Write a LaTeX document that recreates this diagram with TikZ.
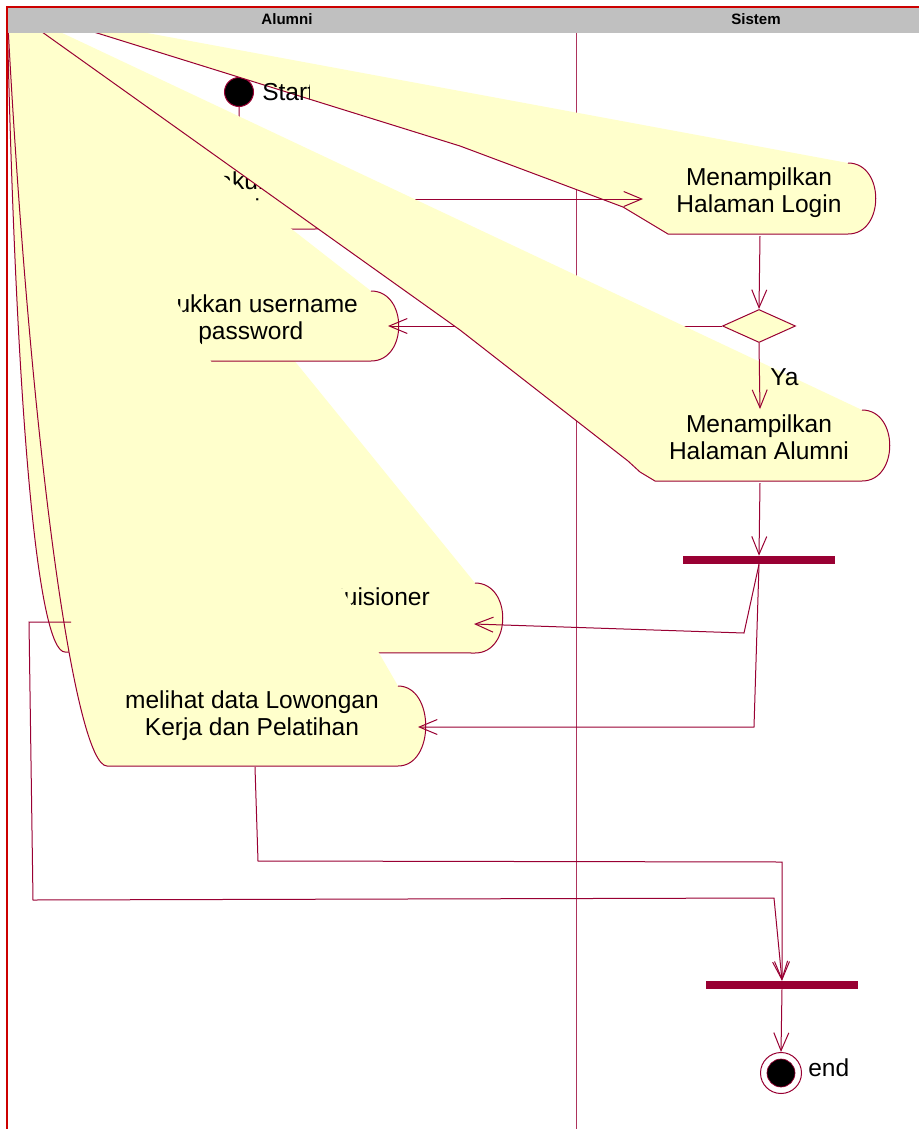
\documentclass[tikz,border=0pt]{standalone}
\usepackage{fontspec}
\setmainfont{Liberation Sans}
\usetikzlibrary{arrows.meta,shapes.geometric}
\definecolor{lineC}{RGB}{153,0,51}
\definecolor{fillC}{RGB}{255,255,204}
\definecolor{frameC}{RGB}{204,0,0}
\definecolor{headC}{RGB}{192,192,192}
\tikzset{
  conn/.style={draw=lineC, line width=0.75pt, -{Straight Barb[length=13.5pt,width=11.25pt]}},
  plainline/.style={draw=lineC, line width=0.75pt},
  actline/.style={draw=lineC, line width=0.75pt, line join=round},
  acttext/.style={font=\fontsize{18.4pt}{20.25pt}\selectfont, align=center, inner sep=0pt},
  lbl/.style={font=\fontsize{18.4pt}{20.25pt}\selectfont, inner sep=0pt},
  hdr/.style={font=\bfseries\fontsize{11.3pt}{13pt}\selectfont, inner sep=0pt},
  barnode/.style={rectangle, fill=lineC, minimum width=114pt, minimum height=6pt, inner sep=0pt},
  startnode/.style={circle, fill=black, draw=lineC, line width=0.75pt, minimum size=21.75pt, inner sep=0pt},
  endouter/.style={circle, fill=white, draw=lineC, line width=0.75pt, minimum size=30.75pt, inner sep=0pt},
  endinner/.style={circle, fill=black, draw=lineC, line width=0.5pt, minimum size=21pt, inner sep=0pt},
  decnode/.style={diamond, fill=fillC, draw=lineC, line width=0.75pt, minimum width=54.75pt, minimum height=24.75pt, inner sep=0pt}
}
\begin{document}
\begin{tikzpicture}[x=0.75pt,y=-0.75pt]
\useasboundingbox (0,0) rectangle (919,1129);
\fill[white] (0,0) rectangle (919,1129);
\coordinate (P) at (7,7);
% lane divider
\draw[lineC!80, line width=0.75pt] (576,33) -- (576,1129);
% start
\node[startnode] (start) at (239,92) {};
\coordinate (a1T) at (240,159);
\draw[conn] (start.south) -- (a1T);
% A1
\def\outA{(315,159) .. controls (352,159) and (352,229) .. (315,229) -- (100,229) -- (P)}
\fill[fillC] (P) -- \outA -- cycle;
\draw[actline] \outA;
\node[acttext] (tA) at (179,194.5) {Mengakses akun\\website alumni};
\coordinate (aR) at (342,199);
% Login
\def\outLogin{(848,163) .. controls (885,163) and (885,234) .. (848,234) -- (668,234) -- (623,207) -- (460,146) -- (97,33) -- (P)}
\fill[fillC] (P) -- \outLogin -- cycle;
\draw[actline] \outLogin;
\node[acttext] (tLogin) at (759,193) {Menampilkan\\Halaman Login};
\coordinate (loginL) at (643,199);
\coordinate (loginB) at (760,236);
% start label (clipped by its label box)
\begin{scope}
  \clip (255,70) rectangle (309,110);
  \node[lbl, anchor=base west] (startL) at (262,100) {Start};
\end{scope}
% Kuisioner
\def\outK{(475,583) .. controls (512,583) and (512,653) .. (475,653) -- (65,652) .. controls (38,652) and (16,420) .. (P)}
\fill[fillC] (P) -- \outK -- cycle;
\draw[actline] \outK;
\node[lbl, anchor=base] (tK) at (333,605) {Mengisi Kuisioner};
\coordinate (kR) at (474,624);
\coordinate (kL) at (71,622);
% A2
\def\outB{(371,291) .. controls (408,291) and (408,361) .. (371,361) -- (120,361) -- (P)}
\fill[fillC] (P) -- \outB -- cycle;
\draw[actline] \outB;
\node[acttext] (tB) at (227,320) {Memasukkan username\\dan password};
\coordinate (bR) at (388,326);
% decision
\node[decnode] (dec) at (759,326) {};
\draw[conn] (aR) -- (loginL);
\draw[conn] (loginB) -- (dec.north);
\draw[conn] (dec.west) -- (bR);
% Alumni page
\def\outAl{(862,410) .. controls (899,410) and (899,481) .. (862,481) -- (655,481) -- (640,472) -- (628,461) -- (460,330) -- (P)}
\fill[fillC] (P) -- \outAl -- cycle;
\draw[actline] \outAl;
\node[acttext] (tAl) at (759,437.5) {Menampilkan\\Halaman Alumni};
\coordinate (alT) at (760,409);
\coordinate (alB) at (760,483);
\draw[conn] (dec.south) -- (alT);
\node[lbl, anchor=base west] (ya) at (770,385) {Ya};
% melihat
\def\outM{(398,686) .. controls (435,686) and (435,766) .. (398,766) -- (107,766) .. controls (75,766) and (30,450) .. (P)}
\fill[fillC] (P) -- \outM -- cycle;
\draw[actline] \outM;
\node[acttext] (tM) at (252,716) {melihat data Lowongan\\Kerja dan Pelatihan};
\coordinate (mR) at (418,727);
\coordinate (mB) at (255,767);
% fork / join
\node[barnode] (fork) at (759,560) {};
\node[barnode] (join) at (782,985) {};
\draw[conn] (alB) -- (fork.north);
\draw[conn] (fork.south) -- (744,633) -- (kR);
\draw[conn] (fork.south) -- (754,727) -- (mR);
\draw[conn] (kL) -- (29,622) -- (33,900) -- (774,898) -- (join.north);
\draw[conn] (mB) -- (258,861) -- (782,862) -- (join.north);
% end
\node[endouter] (end) at (781,1073) {};
\node[endinner] (endI) at (end) {};
\draw[conn] (join.south) -- (end.north);
\node[lbl, anchor=base west] (endL) at (808,1076) {end};
% header and frame
\fill[headC] (8,8) rectangle (919,33);
\node[hdr, anchor=base] (hA) at (287,24) {Alumni};
\node[hdr, anchor=base] (hS) at (756,24) {Sistem};
\draw[frameC, line width=1.5pt] (7,1129) -- (7,7) -- (919,7);
\end{tikzpicture}
\end{document}
